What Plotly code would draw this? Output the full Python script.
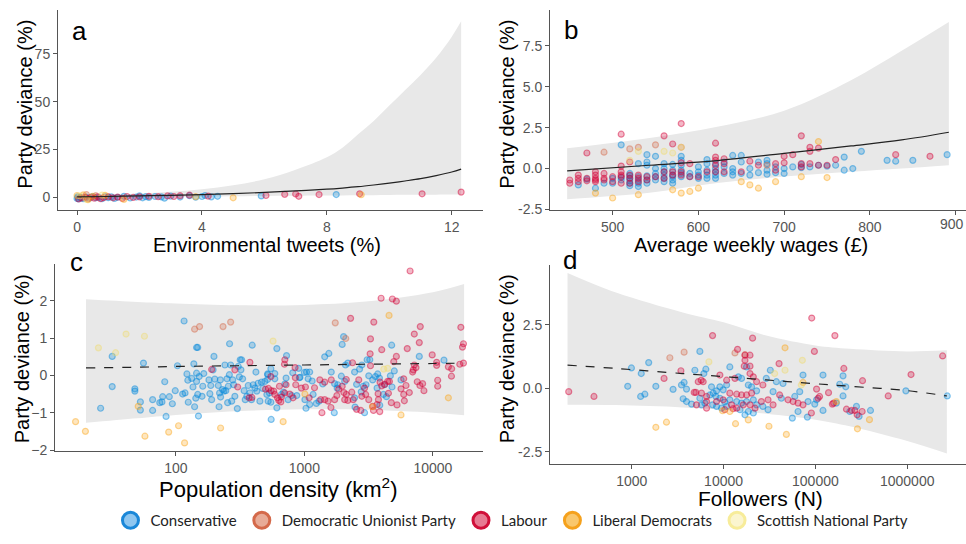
import plotly.graph_objects as go

# ---------------- data ----------------
parties = ["Conservative", "Democratic Unionist Party", "Labour",
           "Liberal Democrats", "Scottish National Party"]
point_colors = {"Conservative": "0,135,220", "Democratic Unionist Party": "212,106,76",
                "Labour": "213,0,55", "Liberal Democrats": "250,166,26",
                "Scottish National Party": "240,220,110"}
legend_edge = ["#1a87d8", "#d4694a", "#d0103a", "#f5a11c", "#f7ec9a"]
legend_fill = ["#8ec6f0", "#e8ab97", "#e77b93", "#f9c76c", "#fbf5cf"]

# panel a: environmental tweets (%)
a_con = [(0, -0.5), (0.02, 0.3), (0.05, -0.8), (0.1, 0.1), (0.15, -0.3), (0.2, -0.6), (0.3, 0.2),
         (0.4, -0.4), (0.5, 0.5), (0.6, -0.2), (0.7, 0.0), (0.8, -0.7), (0.9, 0.4), (1.0, -0.1),
         (1.1, 0.3), (1.2, -0.5), (1.3, 0.1), (1.5, 0.6), (1.7, -0.3), (1.9, 0.2), (2.0, 0.8),
         (2.1, -0.2), (2.2, 0.4), (2.3, 0.0), (2.5, 0.5), (2.7, 0.3), (2.8, -0.4), (3.0, 0.7),
         (3.3, 0.2), (3.6, 0.9), (3.8, 0.1), (4.0, 0.5), (4.1, 1.0), (4.3, 0.3), (4.5, 0.6),
         (5.9, 0.8), (8.3, 1.5)]
a_dup = [(0.3, 1.5), (0.6, 0.9)]
a_lab = [(0.05, -0.8), (0.15, -0.3), (0.25, 0.2), (0.35, -0.6), (0.45, 0.1), (0.55, -0.4),
         (0.65, 0.3), (0.75, -0.7), (0.85, -0.1), (1.0, 0.4), (1.15, -0.2), (1.3, 0.2),
         (1.45, -0.5), (1.6, 0.5), (1.8, 0.0), (2.0, 0.3), (2.3, 0.6), (2.6, 0.4), (2.9, 0.8),
         (3.1, 0.5), (3.3, 0.9), (3.6, 1.2), (4.2, 0.7), (6.05, 1.0), (6.65, 1.6), (7.0, 1.8),
         (7.1, 0.6), (7.75, 1.5), (9.05, 1.9), (11.05, 1.9), (12.3, 2.8)]
a_ld = [(0.0, 1.0), (0.2, 1.3), (0.35, -1.2), (0.5, 0.6), (0.9, 1.1), (1.5, -1.0), (3.8, 0.4),
        (5.0, -0.2), (9.1, 1.4)]
a_snp = [(0.1, 0.8), (0.3, -1.0), (0.8, 1.2)]
a_band_x = [0, 1, 2, 3, 4, 5, 6, 7, 8, 8.5, 9, 9.5, 10, 10.5, 11, 11.5, 12, 12.3]
a_fit = [0.3, 0.5, 0.8, 1.1, 1.5, 2.0, 2.6, 3.4, 4.3, 4.9, 5.6, 6.5, 7.5, 8.6, 9.8, 11.4, 13.3, 14.8]
a_upper = [0.8, 1.4, 2.1, 3.0, 4.3, 6.4, 9.5, 14.5, 21, 26, 33, 40, 48, 56, 64, 73, 84, 92]
a_lower = [-0.8, -0.5, -0.2, 0.1, 0.4, 0.6, 0.8, 0.9, 1.0, 1.05, 1.1, 1.2, 1.3, 1.35, 1.4, 1.45,
           1.5, 1.5]

# panel b: average weekly wages (GBP)
b_con = [(460, -1.0), (470, -0.65), (480, -1.2), (490, -0.9), (500, -0.9), (500, -0.6),
         (510, 1.45), (510, -0.55), (510, -0.7), (520, -0.3), (520, -0.45), (520, -0.6),
         (520, -0.75), (520, -0.9), (520, -1.05), (530, 0.3), (530, -0.5), (530, -0.7),
         (530, -0.9), (530, -1.1), (540, 0.85), (540, 0.4), (540, 0.2), (540, -0.45), (540, -0.7),
         (540, -0.9), (550, 0.75), (550, 0.0), (550, -0.3), (550, -0.5), (550, -0.7), (560, 0.3),
         (560, 0.0), (560, -0.2), (560, -0.4), (560, -0.6), (560, -0.8), (570, 0.25), (570, -0.1),
         (570, -0.4), (570, -0.5), (570, -0.7), (570, -0.9), (580, 0.75), (580, 0.5), (580, 0.2),
         (580, -0.1), (580, -0.3), (580, -0.5), (590, -0.3), (590, -0.5), (600, 0.1), (600, -0.2),
         (600, -0.4), (600, -0.6), (610, 0.55), (610, 0.3), (610, -0.1), (610, -0.4), (610, -0.6),
         (620, 0.3), (620, 0.0), (620, -0.2), (620, -0.4), (620, -0.6), (630, 0.4), (630, 0.1),
         (630, -0.3), (640, 0.8), (640, 0.0), (640, -0.2), (640, -0.4), (650, 0.8), (650, 0.4),
         (650, -0.3), (660, 0.0), (660, -0.4), (670, 0.4), (670, -0.25), (680, 0.5), (680, 0.3),
         (680, -0.1), (680, -0.35), (690, 0.1), (690, -0.25), (700, 0.0), (700, -0.3), (710, 0.1),
         (720, 0.25), (720, 0.05), (730, 0.1), (740, 0.2), (750, 0.15), (760, 0.2), (770, 0.7),
         (770, -0.1), (780, 0.0), (790, 1.05), (820, 0.5), (830, 0.45), (850, 0.5), (890, 0.85)]
b_dup = [(490, 1.0), (520, 1.2), (530, 1.3), (550, 1.45), (580, 1.3), (680, 0.2)]
b_lab = [(450, -0.7), (450, -0.9), (460, -0.4), (460, -0.6), (460, -0.8), (470, 0.95), (470, -0.6),
         (470, -0.75), (480, -0.2), (480, -0.4), (480, -0.6), (480, -0.7), (480, -0.8), (490, -0.3),
         (490, -0.6), (490, -0.7), (500, -0.5), (500, -0.8), (510, 2.1), (510, 0.15), (510, -0.2),
         (510, -0.4), (510, -0.5), (510, -0.9), (520, 0.4), (520, -0.4), (520, -0.6), (520, -0.9),
         (530, -0.4), (530, -0.6), (530, -0.8), (540, -0.5), (540, -0.7), (550, -0.5), (560, 2.0),
         (560, -0.2), (560, -0.6), (570, 1.5), (570, -0.2), (570, -0.4), (580, 2.75), (580, 0.35),
         (580, -0.2), (580, -0.4), (590, 0.3), (590, -0.5), (600, -0.5), (610, -0.2), (620, 1.55),
         (620, 0.7), (620, 0.5), (620, 0.2), (620, -0.2), (630, 0.6), (630, 0.3), (630, -0.2),
         (650, -0.2), (660, 0.45), (670, 0.2), (690, 0.3), (690, -0.1), (700, 0.75), (700, 0.35),
         (710, 0.85), (720, 2.0), (720, 0.3), (720, 0.1), (730, 1.3), (730, 1.05), (730, 0.3),
         (740, 1.25), (740, 0.2), (750, 0.2), (760, 0.55), (830, 0.85), (870, 0.75)]
b_ld = [(480, -1.5), (500, -1.8), (530, -1.6), (570, -1.3), (580, -1.5), (590, -1.4), (600, -1.2),
        (650, -0.8), (660, -1.0), (670, -1.2), (690, -0.8), (720, -0.5), (740, 1.65), (750, -0.55)]
b_snp = [(520, 0.5), (530, 1.05), (560, 1.05), (570, 0.95), (580, 1.3)]
b_band_x = [447, 543, 622, 700, 778, 837, 892]
b_fit = [-0.14, 0.2, 0.49, 0.93, 1.38, 1.75, 2.22]
b_upper = [1.24, 1.87, 2.56, 3.54, 5.4, 7.2, 8.96]
b_lower = [-1.87, -1.48, -0.89, -0.49, -0.2, 0.0, 0.2]
b_ticks = [500, 600, 700, 800, 900]

# panel c: population density (km2)
c_con = [(116, 1.46), (145, 0.75), (148, 0.75), (262, 0.85), (393, 0.81), (32, 0.51), (56, 0.33),
         (32, -0.30), (26, -0.88), (48, -0.36), (48, -0.42), (53, -0.71), (53, -0.93), (66, -0.65),
         (66, -0.94), (75, -0.73), (78, -0.71), (79, -0.57), (82, -0.17), (89, -0.57), (94, -0.76),
         (84, -1.10), (99, -0.41), (103, 0.26), (113, -0.50), (118, -0.47), (122, 0.04),
         (124, -0.13), (125, -0.72), (133, -0.08), (136, -0.31), (138, 0.31), (140, -0.84),
         (143, -0.61), (145, -0.16), (145, 0.06), (148, -0.51), (150, -1.09), (152, -0.03),
         (160, -0.56), (162, -0.29), (165, 0.05), (181, -0.12), (184, -0.49), (187, -0.27),
         (190, -0.65), (195, 0.15), (198, 0.51), (201, -0.10), (214, -0.27), (217, -0.84),
         (219, -0.47), (222, -0.12), (223, -0.58), (231, -0.38), (237, -0.42), (241, 0.28),
         (245, -0.41), (250, -0.09), (253, -0.73), (256, -0.29), (261, 0.02), (267, 0.28),
         (272, -0.69), (277, -0.12), (282, -0.25), (288, -0.56), (301, -0.89), (306, 0.24),
         (312, -0.04), (317, 0.42), (321, 0.15), (325, 0.42), (331, -0.09), (340, -0.41),
         (347, -0.65), (357, -0.56), (366, -0.27), (377, -0.47), (388, -0.65), (400, -0.25),
         (412, -0.34), (420, 0.09), (427, -0.42), (437, -0.21), (451, -0.69), (464, -0.18),
         (475, -0.35), (493, -0.16), (511, -0.51), (517, 0.04), (523, -0.69),
         (611, 0.72), (727, 0.53), (1440, 0.50), (1550, 0.59), (2020, 1.04), (1970, 0.83),
         (4780, 0.81), (7840, 0.51), (12200, 0.41), (3080, 0.42), (2800, 0.28), (2090, 0.28),
         (2180, 0.33), (549, 0.18), (589, 0.05), (520, 0.02), (812, 0.07), (903, 0.19),
         (1000, 0.08), (925, -0.05), (1040, 0.09), (1100, 0.09), (1070, -0.09), (1150, -0.15),
         (721, -0.07), (705, -0.23), (517, -0.11), (589, -0.09), (688, -0.45), (535, -0.47),
         (549, -0.72), (611, -0.87), (663, -0.51), (748, -0.65), (798, -0.54), (873, -0.54),
         (915, -0.06), (1010, -0.65), (1030, -0.88), (1100, -0.78), (1170, -0.51), (1240, -0.75),
         (1300, -0.69), (1390, -0.23), (1620, 0.09), (1720, -0.22), (1800, -0.34), (1820, -0.25),
         (1940, -0.02), (2060, -0.16), (2460, 0.09), (2550, -0.24), (2690, 0.17), (2770, -0.44),
         (2870, -0.29), (3020, -0.25), (3170, -0.01), (3230, 0.42), (3400, -0.12), (3570, -0.03),
         (3720, 0.04), (3840, -0.07), (3680, -0.34), (3860, -0.80), (4120, -0.51), (4200, -0.25),
         (4350, -0.57), (4670, -0.01), (4810, -0.31), (5010, 0.12), (5650, -0.12), (2940, -1.00),
         (2480, -0.85), (2460, -0.60), (1710, -1.00), (552, -1.18)]
c_dup = [(140, 1.24), (153, 1.31), (233, 1.31), (267, 1.43), (1740, 1.41), (2100, 0.99)]
c_lab = [(190, 0.16), (288, 0.15), (377, 0.35), (303, -0.31), (372, -0.60), (391, -0.59),
         (499, -0.37), (6650, 2.80), (3955, 2.07), (4840, 2.05), (5200, 1.99), (2290, 1.53),
         (3470, 1.43), (7980, 1.31), (16500, 1.29), (7170, 1.11), (3270, 0.98), (7840, 0.88),
         (4000, 0.69), (6320, 0.72), (17300, 0.85), (17000, 0.76), (5200, 0.51), (9880, 0.55),
         (3250, 0.58), (705, 0.42), (700, 0.30), (847, 0.21), (2370, 0.34), (3270, 0.26),
         (4960, 0.37), (7170, 0.28), (7390, 0.21), (7040, 0.15), (6960, 0.09), (10700, 0.35),
         (10700, 0.27), (13200, 0.23), (14000, 0.18), (16200, 0.30), (17300, 0.33),
         (13950, -0.02), (10900, -0.13), (10900, -0.29), (8320, -0.22), (7930, -0.27),
         (8520, -0.41), (7560, -0.17), (5930, -0.09), (6180, -0.27), (6560, -0.46), (5650, -0.36),
         (5930, -0.51), (6000, -0.68), (5260, -0.79), (4750, -0.73), (4510, -0.48), (4450, -0.16),
         (4590, -0.16), (4220, -0.24), (4000, -0.28), (3880, -0.18), (3750, -0.49), (3770, -0.65),
         (3680, -0.78), (3450, -0.94), (3860, -0.97), (3400, -0.83), (3170, -0.65), (3000, -0.51),
         (2940, -0.34), (2800, -0.56), (2650, -0.12), (2750, -0.94), (2550, -0.91), (2400, -0.65),
         (2340, -0.45), (2180, -0.67), (2120, -0.51), (2030, -0.46), (1970, -0.29), (1850, -0.37),
         (1790, -0.54), (1720, -0.65), (1610, -0.86), (1530, -0.69), (1440, -0.65), (1370, -1.00),
         (1340, -0.65), (1320, -0.12), (1200, -0.33), (1090, -0.60), (1020, -0.31), (948, -0.34),
         (851, -0.06), (857, -0.25), (817, -0.60), (770, -0.50), (704, -0.47), (663, -0.58),
         (633, -0.67), (589, -0.51), (578, -0.42), (552, -0.41), (526, -0.35), (549, -0.03),
         (640, -0.29), (721, -0.25), (656, -0.71), (618, -0.60), (2120, -0.11), (2060, -0.65),
         (1620, -0.12), (1440, -0.18)]
c_ld = [(16.6, -1.24), (19.8, -1.50), (51, -0.83), (57.5, -1.63), (88, -1.52), (105, -1.35),
        (117, -1.81), (223, -1.41), (4560, 1.61), (5650, -1.06), (684, -1.24), (13200, -0.60),
        (1010, -0.50), (3390, -0.84)]
c_snp = [(25, 0.74), (34, 0.61), (41, 1.11), (57, 1.05), (571, 0.92), (4150, 0.17), (4450, 0.19)]
c_band_x = [20, 50, 100, 300, 1000, 3000, 10000, 17500]
c_fit = [0.2, 0.22, 0.24, 0.26, 0.28, 0.3, 0.32, 0.33]
c_upper = [2.04, 1.97, 1.93, 1.88, 1.89, 1.98, 2.23, 2.45]
c_lower = [-1.27, -1.15, -1.06, -0.96, -0.91, -0.92, -1.0, -1.07]

# panel d: followers (N)
d_con = [(992, 0.80), (1530, 1.01), (5520, 1.45), (1270, 0.58), (904, 0.08), (1830, 0.08),
         (1250, -0.32), (1390, -0.23), (2820, -0.04), (3480, 0.13), (3720, 0.23), (3950, -0.03),
         (4870, 0.71), (6410, 0.75), (6100, 0.58), (7390, 0.06), (7710, -0.19), (8390, -0.10),
         (8250, -0.32), (9120, 0.06), (9910, -0.06), (10800, 0.13), (11700, 0.84), (14500, 0.45),
         (15700, 0.39), (17800, 0.84), (18600, 0.13), (20200, 0.06), (22900, -0.10),
         (9120, -0.39), (10300, -0.54), (11700, -0.45), (13900, -0.52), (15700, -0.58),
         (17800, -0.52), (21100, -0.45), (22900, -0.65), (3630, -0.41), (3950, -0.52),
         (4480, -0.62), (5750, -0.65), (6250, -0.58), (7590, -0.65), (8390, -0.71), (9510, -0.78),
         (10800, -0.71), (15100, -0.84), (18600, -0.91), (17100, -1.04), (21100, -0.97),
         (5520, -0.39), (7100, -0.26), (32300, 0.71), (73300, 0.52), (121000, 0.52),
         (200000, 0.49), (184000, 0.16), (200000, -0.30), (214000, 0.06), (103000, -0.45),
         (83200, -0.52), (98400, -0.62), (121000, -0.87), (81800, -1.13), (56100, -1.17),
         (169000, -0.58), (237000, -0.91), (280000, -0.71), (299000, -1.10), (398000, -0.87),
         (966000, -0.10), (2730000, -0.30), (29200, 0.39), (37600, 0.26), (44400, 0.19),
         (34600, -0.13), (42600, -0.39), (26800, -0.71), (30500, -0.84), (64700, -0.91),
         (67500, -0.13), (59600, -0.32)]
d_dup = [(2600, 1.20), (3720, 1.42), (13300, 1.39), (17100, 1.32)]
d_lab = [(206, -0.13), (388, -0.32), (7590, 2.07), (20700, 1.97), (14200, 1.53), (17100, 1.30),
         (19400, 1.30), (17100, 1.10), (16800, 0.87), (19400, 0.87), (3430, 0.69), (2250, 0.39),
         (5300, 0.26), (5710, 0.32), (6000, 0.26), (4790, -0.16), (4990, -0.16), (5750, -0.19),
         (6530, -0.32), (9120, 0.52), (10800, 0.32), (13300, 0.39), (19400, 0.58), (21100, 0.45),
         (22900, 0.26), (11700, -0.19), (13900, -0.23), (15700, -0.26), (17800, -0.26),
         (20200, -0.19), (5070, -0.65), (6530, -0.52), (8390, -0.52), (9910, -0.45),
         (12200, -0.65), (13900, -0.78), (16400, -0.65), (19400, -0.65), (22000, -0.78),
         (10300, -0.84), (12700, -0.80), (6530, -0.78), (91200, 2.76), (163000, 2.07),
         (97500, 1.45), (40200, 0.97), (103000, -0.03), (139000, -0.17), (204000, 0.78),
         (218000, -0.82), (247000, -0.87), (269000, -0.87), (326000, 0.30), (323000, -0.91),
         (285000, -1.04), (621000, -0.30), (1100000, 0.54), (2430000, 1.27), (50300, -0.45),
         (57100, -0.52), (64700, -0.58), (73300, -0.65), (90400, -0.97), (107000, -0.39),
         (111000, -0.32), (153000, -0.62), (158000, -0.58), (30500, -0.45), (34600, -0.65),
         (40800, -0.26), (26800, 0.13), (25800, -0.52)]
d_ld = [(1830, -1.53), (2390, -1.33), (13500, -1.39), (18600, -1.24), (9750, -0.88),
        (11700, -0.91), (46700, 1.59), (73300, 0.23), (169000, -0.52), (287000, -1.59),
        (388000, -1.23), (31200, -1.49), (48300, -1.81)]
d_snp = [(6920, 1.04), (72100, 1.10), (46700, 0.71), (36000, 0.58), (70300, 0.13)]
d_band_x = [200, 674, 3594, 10000, 29200, 100000, 237000, 1000000, 2700000]
d_fit = [0.91, 0.78, 0.58, 0.46, 0.33, 0.18, 0.08, -0.09, -0.30]
d_upper = [4.53, 3.76, 2.98, 2.59, 2.07, 1.68, 1.55, 1.45, 1.49]
d_lower = [-0.65, -0.66, -0.75, -0.84, -1.0, -1.23, -1.49, -2.07, -2.56]

# ---------------- figure ----------------
fig = go.Figure()

panels = [
    ("x", "y", [a_con, a_dup, a_lab, a_ld, a_snp], a_band_x, a_lower, a_upper, a_fit, "solid"),
    ("x2", "y2", [b_con, b_dup, b_lab, b_ld, b_snp], b_band_x, b_lower, b_upper, b_fit, "solid"),
    ("x3", "y3", [c_con, c_dup, c_lab, c_ld, c_snp], c_band_x, c_lower, c_upper, c_fit, "dash"),
    ("x4", "y4", [d_con, d_dup, d_lab, d_ld, d_snp], d_band_x, d_lower, d_upper, d_fit, "dash"),
]

for xa, ya, groups, bx, lo, hi, fit, dash in panels:
    # confidence band: lower edge, then upper edge filled down to it
    fig.add_trace(go.Scatter(x=bx, y=lo, mode="lines", line=dict(width=0, shape="spline"),
                             hoverinfo="skip", showlegend=False, xaxis=xa, yaxis=ya))
    fig.add_trace(go.Scatter(x=bx, y=hi, mode="lines", line=dict(width=0, shape="spline"),
                             fill="tonexty", fillcolor="#e8e8e8",
                             hoverinfo="skip", showlegend=False, xaxis=xa, yaxis=ya))
    # points
    for party, pts in zip(parties, groups):
        rgb = point_colors[party]
        fig.add_trace(go.Scatter(
            x=[p[0] for p in pts], y=[p[1] for p in pts], mode="markers",
            marker=dict(size=6, color="rgba(%s,0.28)" % rgb,
                        line=dict(color="rgba(%s,0.45)" % rgb, width=1.2)),
            name=party, showlegend=False, xaxis=xa, yaxis=ya))
    # fitted line
    fig.add_trace(go.Scatter(x=bx, y=fit, mode="lines",
                             line=dict(color="#222222", width=1.2, dash=dash, shape="spline"),
                             showlegend=False, xaxis=xa, yaxis=ya))

# legend-only traces
for party, edge, fill in zip(parties, legend_edge, legend_fill):
    fig.add_trace(go.Scatter(x=[None], y=[None], mode="markers", name=party,
                             marker=dict(size=16, color=fill, line=dict(color=edge, width=3))))

W, H = 966, 544


def xd(a, b):
    return [a / W, b / W]


def yd(top, bottom):
    return [1 - bottom / H, 1 - top / H]


tick_font = dict(family="Arial", size=14, color="#555555")
axis_common = dict(showline=True, linecolor="#555555", linewidth=1, ticks="outside",
                   ticklen=4, tickcolor="#555555", showgrid=False, zeroline=False,
                   tickfont=tick_font)

fig.update_layout(
    width=W, height=H, margin=dict(l=0, r=0, t=0, b=0),
    paper_bgcolor="white", plot_bgcolor="white",
    font=dict(family="Arial", color="black"),
    xaxis=dict(domain=xd(58, 483), range=[-0.61, 13.0], tickvals=[0, 4, 8, 12],
               anchor="y", **axis_common),
    yaxis=dict(domain=yd(10, 213), range=[-6.7, 98], tickvals=[0, 25, 50, 75],
               anchor="x", **axis_common),
    # the last wage label sits at the page edge, so it is written separately below
    xaxis2=dict(domain=xd(550, 966), range=[427, 912], tickvals=b_ticks,
                ticktext=[str(t) for t in b_ticks[:-1]] + [" "],
                anchor="y2", **axis_common),
    yaxis2=dict(domain=yd(10, 213), range=[-2.55, 9.7], tickvals=[-2.5, 0, 2.5, 5, 7.5],
                ticktext=["-2.5", "0.0", "2.5", "5.0", "7.5"], anchor="x2", **axis_common),
    xaxis3=dict(domain=xd(55, 483), type="log", range=[1.06, 4.39],
                tickvals=[100, 1000, 10000], ticktext=["100", "1000", "10000"],
                anchor="y3", **axis_common),
    yaxis3=dict(domain=yd(267, 457), range=[-2.03, 3.0], tickvals=[-2, -1, 0, 1, 2],
                anchor="x3", **axis_common),
    xaxis4=dict(domain=xd(550, 966), type="log", range=[2.11, 6.64],
                tickvals=[1000, 10000, 100000, 1000000],
                ticktext=["1000", "10000", "100000", "1000000"], anchor="y4", **axis_common),
    yaxis4=dict(domain=yd(268, 470), range=[-2.97, 4.86], tickvals=[-2.5, 0, 2.5],
                ticktext=["-2.5", "0.0", "2.5"], anchor="x4", **axis_common),
    # legend kept inside the page so it does not push the bottom margin
    legend=dict(orientation="h", x=0.53, xanchor="center", y=0, yanchor="bottom",
                font=dict(family="Lato", size=15, color="#222222"), itemsizing="trace",
                traceorder="normal", bgcolor="rgba(0,0,0,0)"),
)

annotations = []


def add_text(text, x, y, size, angle=0):
    annotations.append(dict(text=text, x=x / W, y=1 - y / H, xref="paper", yref="paper",
                            showarrow=False, textangle=angle, xanchor="center",
                            yanchor="middle", font=dict(size=size, color="black")))


# y titles
add_text("Party deviance (%)", 25, 106, 20, -90)
add_text("Party deviance (%)", 507, 106, 20, -90)
add_text("Party deviance (%)", 22, 364, 20, -90)
add_text("Party deviance (%)", 507, 364, 20, -90)
# x titles
add_text("Environmental tweets (%)", 267, 248, 20)
add_text("Average weekly wages (£)", 751, 248, 20)
add_text("Population density (km<sup>2</sup>)", 278, 494, 22)
add_text("Followers (N)", 760, 505, 21)
# panel letters
add_text("a", 79, 31, 26)
add_text("b", 571, 30, 26)
add_text("c", 76, 265, 26)
add_text("d", 570, 263, 26)

# last tick label of panel b, kept inside the page
annotations.append(dict(text=str(b_ticks[-1]), x=1.0, y=1 - 227 / H, xref="paper",
                        yref="paper", showarrow=False, xanchor="right", yanchor="middle",
                        font=tick_font))

fig.update_layout(annotations=annotations)

# drop the browser's default page margin so the figure starts at the window corner
fig.write_html("out.html", config={"displayModeBar": False},
               post_script="document.body.style.margin = '0';")
